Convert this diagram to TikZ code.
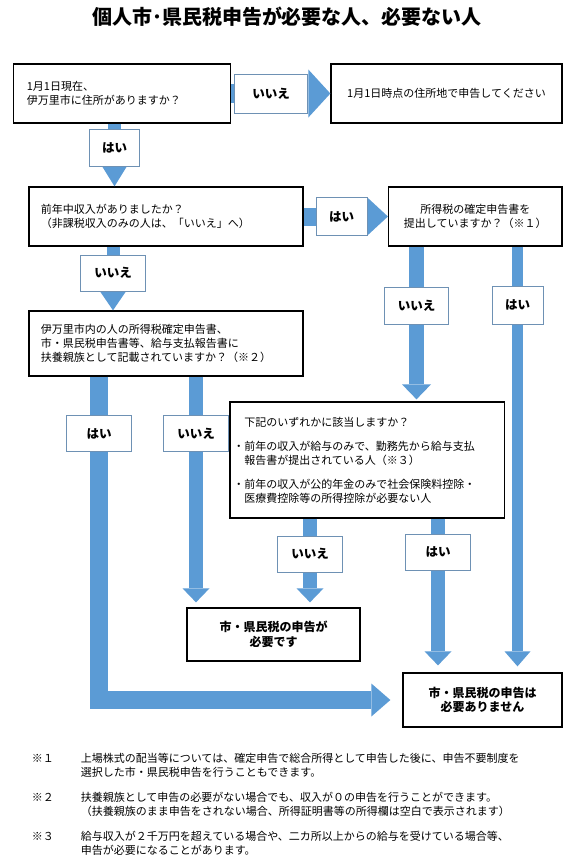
\documentclass[tikz,border=0pt]{standalone}
\usepackage{fontspec}
\newfontfamily\cjk{Noto Sans CJK JP}
\usetikzlibrary{arrows.meta}
\definecolor{flowblue}{RGB}{91,155,213}
\definecolor{tagline}{RGB}{110,145,180}

\begin{document}
\begin{tikzpicture}[x=1pt,y=-1pt,
  box/.style={draw=black,line width=1.3pt,fill=white,inner ysep=0pt,font=\cjk\fontsize{11}{14}\selectfont},
  tag/.style={draw=tagline,line width=0.8pt,fill=white,inner sep=0pt,minimum width=65pt,minimum height=36pt,font=\cjk\bfseries\fontsize{12.5}{14}\selectfont},
  answer/.style={box,align=center,font=\cjk\bfseries\fontsize{12}{14.5}\selectfont},
  flow/.style n args={3}{draw=flowblue,line width=#1,-{Triangle[width=#2,length=#3,line width=0pt]}}]
\fill[white] (0,0) rectangle (563,868);
\useasboundingbox (0,0) rectangle (563,868);
\node[font=\cjk\bfseries\fontsize{20}{24}\selectfont] (title) at (287,17) {個人市･県民税申告が必要な人、必要ない人};
\node[box,minimum width=217pt,minimum height=59pt,text width=191pt,inner xsep=13pt,align=left] (ask1) at (122.3,93.5) {1月1日現在、\\伊万里市に住所がありますか？};
\node[box,minimum width=231pt,minimum height=59pt,align=center] (live) at (446.5,93.5) {1月1日時点の住所地で申告してください};
\node[box,minimum width=274pt,minimum height=59pt,text width=250pt,inner xsep=12pt,align=left] (ask2) at (165.9,216.5) {前年中収入がありましたか？\\（非課税収入のみの人は、「いいえ」へ）};
\node[box,minimum width=173.5pt,minimum height=59pt,align=center] (ask3) at (475.3,216.5) {所得税の確定申告書を\\提出していますか？（※１）};
\node[box,minimum width=274pt,minimum height=65pt,text width=250pt,inner xsep=12pt,align=left] (ask4) at (165.9,343.5) {伊万里市内の人の所得税確定申告書、\\市・県民税申告書等、給与支払報告書に\\扶養親族として記載されていますか？（※２）};
\node[box,minimum width=274.5pt,minimum height=116pt,text width=246pt,inner xsep=14pt,align=left,font=\cjk\fontsize{11}{13.5}\selectfont] (ask5) at (367.3,460) {下記のいずれかに該当しますか？\\[11pt]\leavevmode\llap{・}前年の収入が給与のみで、勤務先から給与支払\\報告書が提出されている人（※３）\\[11pt]\leavevmode\llap{・}前年の収入が公的年金のみで社会保険料控除・\\医療費控除等の所得控除が必要ない人};
\node[answer,minimum width=173pt,minimum height=53pt] (need) at (273.5,634.5) {市・県民税の申告が\\必要です};
\node[answer,minimum width=159pt,minimum height=54pt] (noneed) at (482.5,700) {市・県民税の申告は\\必要ありません};
\coordinate (x1) at (114.5,0);
\coordinate (x2) at (113,0);
\coordinate (x3) at (416.5,0);
\coordinate (x4) at (517.5,0);
\coordinate (x5) at (99,0);
\coordinate (x6) at (196,0);
\coordinate (x7) at (310,0);
\coordinate (x8) at (438,0);
\draw[flow={19pt}{48pt}{22pt}] (ask1.east) -- node[tag,pos=0.4,minimum width=73pt,minimum height=39pt] (no1) {いいえ} (live.west);
\draw[flow={13pt}{26pt}{21pt}] (ask1.south -| x1) -- node[tag,pos=0.38,minimum width=50pt,minimum height=37pt] (yes1) {はい} (ask2.north -| x1);
\draw[flow={18pt}{37pt}{20pt}] (ask2.east) -- node[tag,pos=0.45,minimum width=51pt,minimum height=38pt] (yes2) {はい} (ask3.west);
\draw[flow={13pt}{26pt}{19pt}] (ask2.south -| x2) -- node[tag,pos=0.415] (no2) {いいえ} (ask4.north -| x2);
\draw[flow={15pt}{29pt}{15pt},shorten >=2pt] (ask3.south -| x3) -- node[tag,pos=0.38,minimum width=64pt,minimum height=37pt] (no3) {いいえ} (ask5.north -| x3);
\draw[flow={11pt}{26pt}{15pt},shorten >=6pt] (ask3.south -| x4) -- node[tag,pos=0.138,minimum width=51pt,minimum height=38pt] (yes3) {はい} (noneed.north -| x4);
\draw[flow={18pt}{33pt}{19pt},shorten >=12pt] (ask4.south -| x5) |- node[tag,pos=0.088] (yes4) {はい} (noneed.west);
\draw[flow={14.5pt}{27pt}{14pt},shorten >=5pt] (ask4.south -| x6) -- node[tag,pos=0.246] (no4) {いいえ} (need.north -| x6);
\draw[flow={14pt}{27pt}{14pt},shorten >=5pt] (ask5.south -| x7) -- node[tag,pos=0.4] (no5) {いいえ} (need.north -| x7);
\draw[flow={14pt}{27pt}{14pt},shorten >=7pt] (ask5.south -| x8) -- node[tag,pos=0.219] (yes5) {はい} (noneed.north -| x8);
\node[anchor=north west,inner sep=0pt,font=\cjk\fontsize{11}{14.5}\selectfont] (notes) at (31.6,752) {\begin{tabular}{@{}p{49pt}@{}l@{}}
※１ & 上場株式の配当等については、確定申告で総合所得として申告した後に、申告不要制度を\\
 & 選択した市・県民税申告を行うこともできます。\\[10pt]
※２ & 扶養親族として申告の必要がない場合でも、収入が０の申告を行うことができます。\\
 & （扶養親族のまま申告をされない場合、所得証明書等の所得欄は空白で表示されます）\\[10pt]
※３ & 給与収入が２千万円を超えている場合や、二カ所以上からの給与を受けている場合等、\\
 & 申告が必要になることがあります。
\end{tabular}};
\end{tikzpicture}
\end{document}
